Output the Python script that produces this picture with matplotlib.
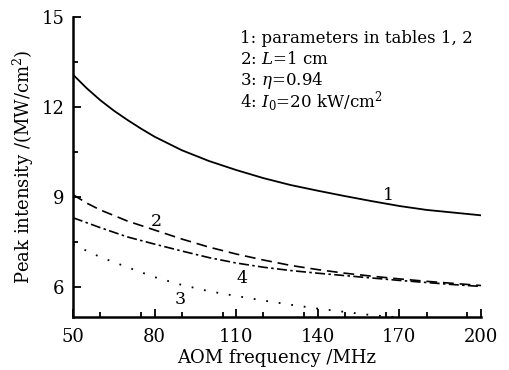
import numpy as np
import matplotlib
matplotlib.use('Agg')
import matplotlib.pyplot as plt
from matplotlib.ticker import MultipleLocator

plt.rcParams['font.family'] = ['DejaVu Serif']
plt.rcParams['mathtext.fontset'] = 'dejavuserif'

# ---- values ----
f1 = [50, 55, 60, 65, 70, 75, 80, 90, 100, 110, 120, 130, 140, 150, 160, 170, 180, 190, 200]
p1 = [13.08, 12.63, 12.23, 11.88, 11.57, 11.28, 11.01, 10.56, 10.20, 9.90, 9.63,
      9.40, 9.21, 9.03, 8.86, 8.70, 8.57, 8.48, 8.39]

f2 = [50, 55, 60, 70, 80, 90, 100, 110, 120, 130, 140, 150, 160, 170, 180, 190, 200]
p2 = [9.08, 8.80, 8.57, 8.20, 7.90, 7.60, 7.33, 7.10, 6.90, 6.72, 6.58, 6.46,
      6.36, 6.27, 6.19, 6.12, 6.05]

f3 = [50, 60, 70, 80, 90, 100, 110, 120, 130, 140, 150, 160, 168]
p3 = [7.42, 7.00, 6.66, 6.33, 6.07, 5.86, 5.70, 5.55, 5.41, 5.28, 5.17, 5.06, 5.00]

f4 = [50, 60, 70, 80, 90, 100, 110, 120, 130, 140, 150, 160, 170, 180, 190, 200]
p4 = [8.31, 7.98, 7.67, 7.43, 7.20, 6.98, 6.80, 6.66, 6.55, 6.46, 6.38, 6.30,
      6.22, 6.15, 6.08, 6.02]

labels = ['1', '2', '3', '4']
label_pos = [(166, 9.05), (80.5, 8.2), (89.5, 5.6), (112, 6.3)]

legend_lines = ['1: parameters in tables 1, 2',
                r'2: $L$=1 cm',
                r'3: $\eta$=0.94',
                r'4: $I_0$=20 kW/cm$^2$']

fig = plt.figure(figsize=(5.09, 3.70), dpi=100)
ax = fig.add_axes([0.1434, 0.1432, 0.8016, 0.8108])

ax.plot(f1, p1, '-', color='k', lw=1.3)
ax.plot(f2, p2, color='k', lw=1.2, dashes=(6.5, 3.5))
ax.plot(f3, p3, color='k', lw=1.3, dashes=(1, 6))
ax.plot(f4, p4, color='k', lw=1.2, dashes=(6, 2, 1.5, 2))

for lab, (x, y) in zip(labels, label_pos):
    ax.text(x, y, lab, fontsize=12.5, ha='center', va='center')

for i, t in enumerate(legend_lines):
    ax.text(0.41, 0.93 - i * 0.071, t, transform=ax.transAxes,
            fontsize=12, va='center', ha='left')

ax.set_xlim(50, 200)
ax.set_ylim(5, 15)
ax.set_xticks([50, 80, 110, 140, 170, 200])
ax.set_yticks([6, 9, 12, 15])
ax.xaxis.set_minor_locator(MultipleLocator(15))
ax.yaxis.set_minor_locator(MultipleLocator(1.5))
ax.tick_params(which='both', direction='in', width=1.3, labelsize=13, pad=6)
ax.tick_params(which='major', length=6)
ax.tick_params(which='minor', length=3.5)
ax.tick_params(axis='x', pad=8)
for s in ['top', 'right']:
    ax.spines[s].set_visible(False)
for s in ['left', 'bottom']:
    ax.spines[s].set_linewidth(1.8)

ax.set_xlabel('AOM frequency /MHz', fontsize=13, labelpad=2)
ax.set_ylabel('Peak intensity /(MW/cm$^2$)', fontsize=13, labelpad=4)

fig.savefig('out.png', dpi=100)
